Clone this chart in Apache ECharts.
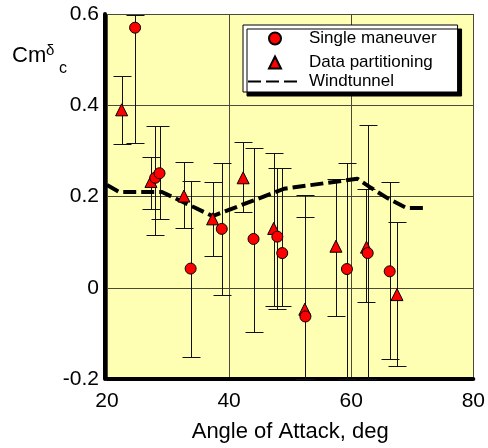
<!DOCTYPE html>
<html>
<head>
<meta charset="utf-8">
<script src="https://cdn.jsdelivr.net/npm/echarts@6/dist/echarts.min.js"></script>
<style>html,body{margin:0;padding:0;background:#fff;}#c{width:488px;height:448px;}</style>
</head>
<body>
<div id="c"></div>
<script>
// Single maneuver (circles)
var singleX  = [24.6, 27.9, 28.6, 33.7, 38.8, 44.0, 47.9, 48.7, 52.5, 59.3, 62.7, 66.3];
var singleY  = [0.570, 0.241, 0.251, 0.042, 0.129, 0.107, 0.112, 0.076, -0.063, 0.041, 0.076, 0.036];
var singleHi = [0.598, 0.355, 0.355, 0.235, 0.274, 0.306, 0.262, 0.262, 0.155, 0.273, 0.357, 0.232];
var singleLo = [0.318, 0.116, 0.150, -0.152, -0.015, -0.096, -0.047, -0.041, -0.2, -0.2, -0.2, -0.157];

// Data partitioning (triangles)
var partX  = [22.4, 27.2, 32.6, 37.3, 42.3, 47.3, 52.4, 57.5, 62.5, 67.5];
var partY  = [0.390, 0.233, 0.201, 0.151, 0.241, 0.130, -0.047, 0.091, 0.089, -0.015];
var partHi = [0.464, 0.286, 0.275, 0.232, 0.319, 0.295, 0.203, 0.238, 0.217, 0.144];
var partLo = [0.315, 0.173, 0.132, 0.070, 0.165, -0.041, -0.2, -0.063, -0.031, -0.172];

// Windtunnel
var windX = [20, 22, 29, 37.3, 49, 61, 63, 66, 69, 72];
var windY = [0.225, 0.21, 0.21, 0.157, 0.217, 0.239, 0.221, 0.196, 0.175, 0.175];

var xTicks = [20, 40, 60, 80];
var yTicks = [-0.2, 0, 0.2, 0.4, 0.6];

var seriesNames = ['Single maneuver', 'Data partitioning', 'Windtunnel'];
var xTitle = 'Angle of Attack, deg';

function zip2(a, b) { return a.map(function (v, i) { return [v, b[i]]; }); }
function zip3(a, b, c) { return a.map(function (v, i) { return [v, b[i], c[i]]; }); }

var FONT = '"Liberation Sans", Arial, sans-serif';

function errRender(params, api) {
  var x = api.value(0), lo = api.value(1), hi = api.value(2);
  var pHi = api.coord([x, hi]);
  var pLo = api.coord([x, lo]);
  var cx = Math.round(pHi[0]) + 0.5;
  var yh = Math.round(pHi[1]) + 0.5;
  var yl = Math.round(pLo[1]) + 0.5;
  var w = 9;
  var st = { stroke: '#111', lineWidth: 1 };
  return {
    type: 'group',
    children: [
      { type: 'line', shape: { x1: cx, y1: yh, x2: cx, y2: yl }, style: st },
      { type: 'line', shape: { x1: cx - w, y1: yh, x2: cx + w, y2: yh }, style: st },
      { type: 'line', shape: { x1: cx - w, y1: yl, x2: cx + w, y2: yl }, style: st }
    ]
  };
}

var chart = echarts.init(document.getElementById('c'), null, { renderer: 'canvas' });
chart.setOption({
  animation: false,
  backgroundColor: '#ffffff',
  textStyle: { fontFamily: FONT },
  grid: {
    left: 107, right: 12, top: 14, bottom: 66,
    show: true, backgroundColor: '#FFFFB3', borderWidth: 0
  },
  legend: [
    {
      orient: 'vertical',
      left: 243, top: 25, z: 10,
      padding: [5, 21, 21, 25],
      itemWidth: 12, itemHeight: 12, itemGap: 7,
      backgroundColor: '#ffffff',
      borderColor: '#000', borderWidth: 1,
      shadowColor: '#000', shadowOffsetX: 4, shadowOffsetY: 4, shadowBlur: 0,
      textStyle: { fontFamily: FONT, fontSize: 17, color: '#000', padding: [0, 0, 0, 23] },
      data: [
        { name: seriesNames[0], icon: 'circle' },
        { name: seriesNames[1], icon: 'triangle' }
      ]
    },
    {
      orient: 'vertical',
      left: 247, top: 73, z: 11,
      padding: 0,
      itemWidth: 54, itemHeight: 12,
      itemStyle: { color: 'rgba(0,0,0,0)', borderColor: 'rgba(0,0,0,0)', borderWidth: 0 },
      textStyle: { fontFamily: FONT, fontSize: 17, color: '#000', padding: [0, 0, 0, 2] },
      data: [ { name: seriesNames[2] } ]
    }
  ],
  xAxis: {
    type: 'value', min: 20, max: 80, interval: 20,
    name: xTitle, nameLocation: 'middle', nameGap: 42,
    nameTextStyle: { fontFamily: FONT, fontSize: 22, color: '#000' },
    axisLine: { onZero: false, lineStyle: { color: '#000', width: 4 } },
    axisTick: { show: false },
    axisLabel: { margin: 12, fontFamily: FONT, fontSize: 21, color: '#000' },
    splitLine: { show: true, lineStyle: { color: '#4a4a3a', width: 1 } }
  },
  yAxis: {
    type: 'value', min: -0.2, max: 0.6, interval: 0.2,
    offset: 2,
    axisLine: { onZero: false, lineStyle: { color: '#000', width: 4 } },
    axisTick: { show: false },
    axisLabel: {
      margin: 6, fontFamily: FONT, fontSize: 21, color: '#000',
      padding: [8, 0, 0, 0],
      formatter: function (v) { return String(Math.round(v * 10) / 10); }
    },
    splitLine: { show: true, lineStyle: { color: '#4a4a3a', width: 1 } }
  },
  graphic: [
    { type: 'text', left: 12, top: 45, z: 100,
      style: { text: 'Cm', font: '22px ' + FONT, fill: '#000' } },
    { type: 'text', left: 46, top: 43, z: 100,
      style: { text: 'δ', font: '15px ' + FONT, fill: '#000' } },
    { type: 'text', left: 59, top: 61, z: 100,
      style: { text: 'c', font: '16px ' + FONT, fill: '#000' } }
  ],
  series: [
    {
      name: 'errSingle', type: 'custom', renderItem: errRender,
      encode: { x: 0, y: [1, 2] }, z: 2, silent: true,
      data: zip3(singleX, singleLo, singleHi)
    },
    {
      name: 'errPart', type: 'custom', renderItem: errRender,
      encode: { x: 0, y: [1, 2] }, z: 2, silent: true,
      data: zip3(partX, partLo, partHi)
    },
    {
      name: seriesNames[2], type: 'line', symbol: 'none', z: 3,
      lineStyle: { color: '#000', width: 4, type: [13, 5], cap: 'butt' },
      itemStyle: { color: '#000' },
      data: zip2(windX, windY)
    },
    {
      name: seriesNames[0], type: 'scatter', symbol: 'circle', symbolSize: 11, z: 5,
      itemStyle: { color: '#FF0000', borderColor: '#000', borderWidth: 1, opacity: 1 },
      data: zip2(singleX, singleY)
    },
    {
      name: seriesNames[1], type: 'scatter', symbol: 'triangle', symbolSize: 12, z: 4,
      itemStyle: { color: '#FF0000', borderColor: '#000', borderWidth: 1, opacity: 1 },
      data: zip2(partX, partY)
    }
  ]
});
</script>
</body>
</html>
